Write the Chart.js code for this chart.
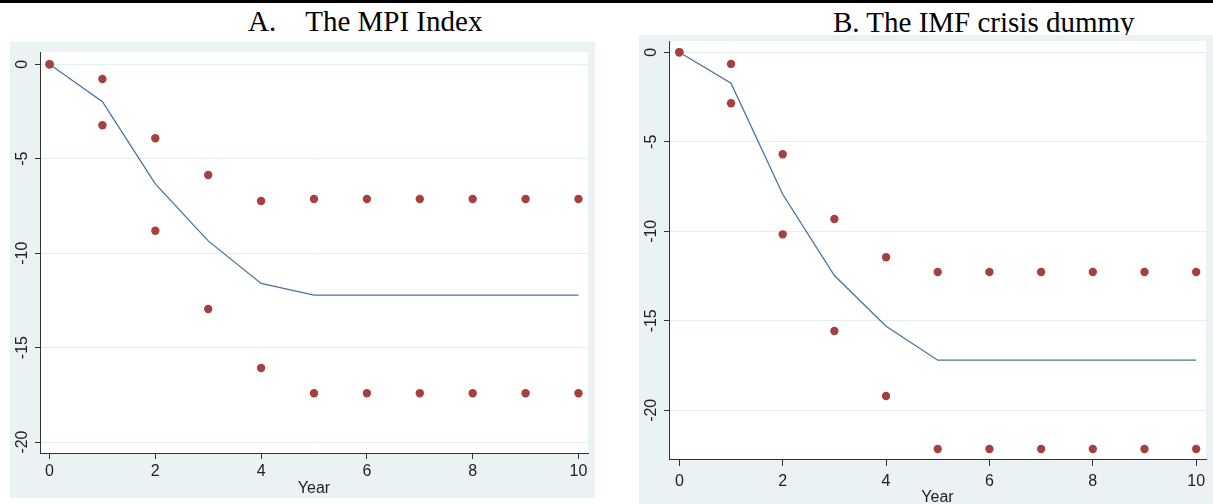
<!DOCTYPE html>
<html>
<head>
<meta charset="utf-8">
<script src="https://cdn.jsdelivr.net/npm/chart.js@4.4.1/dist/chart.umd.min.js"></script>
<style>
  body { margin: 0; width: 1213px; height: 504px; background: #fff; position: relative; overflow: hidden; }
  .rule { position: absolute; left: 0; top: 0; width: 1213px; height: 3px; background: #000; }
  .title { position: absolute; font-family: 'Liberation Serif', 'Times New Roman', serif; font-size: 29px; line-height: 29px; color: #000; white-space: pre; }
  .panel { position: absolute; background: #EAF2F3; }
  canvas { display: block; }
</style>
</head>
<body>
<div class="rule"></div>
<div class="title" style="left:248px; top:7px;">A.<span style="margin-left:29px;">The MPI Index</span></div>
<div class="title" style="left:833px; top:8px;">B. The IMF crisis dummy</div>

<div class="panel" style="left:10px; top:42px; width:585px; height:456px;">
  <canvas id="mpiChart" width="585" height="456"></canvas>
</div>
<div class="panel" style="left:639px; top:35px; width:574px; height:469px;">
  <canvas id="imfChart" width="574" height="469"></canvas>
</div>

<script>
const years = [0, 1, 2, 3, 4, 5, 6, 7, 8, 9, 10];
const xTicks = [0, 2, 4, 6, 8, 10];
const yTicks = [0, -5, -10, -15, -20];

// panel A: MPI index
const mpiEstimate = [0, -1.98, -6.33, -9.35, -11.6, -12.22, -12.22, -12.22, -12.22, -12.22, -12.22];
const mpiUpper    = [0, -0.78, -3.92, -5.86, -7.24, -7.13, -7.13, -7.13, -7.13, -7.13, -7.13];
const mpiLower    = [0, -3.23, -8.81, -12.96, -16.08, -17.42, -17.42, -17.42, -17.42, -17.42, -17.42];

// panel B: IMF crisis dummy
const imfEstimate = [0, -1.73, -7.93, -12.47, -15.3, -17.2, -17.2, -17.2, -17.2, -17.2, -17.2];
const imfUpper    = [0, -0.65, -5.7, -9.31, -11.45, -12.27, -12.27, -12.27, -12.27, -12.27, -12.27];
const imfLower    = [0, -2.85, -10.17, -15.57, -19.2, -22.16, -22.16, -22.16, -22.16, -22.16, -22.16];

const TICK_FONT = "'Liberation Sans Narrow', 'Liberation Sans', Arial, sans-serif";
const TICK_SIZE = 16;
const TEXT_COLOR = '#222';
const AXIS_COLOR = '#333';
const GRID_COLOR = '#E3EEEF';
const LINE_COLOR = '#4A739B';
const DOT_COLOR = '#A6403F';

const toPoints = (vals) => years.map((x, i) => ({ x, y: vals[i] }));

const plotBackground = {
    id: 'plotBackground',
    beforeDraw(chart) {
        const { ctx, chartArea: a } = chart;
        ctx.save();
        ctx.fillStyle = '#fff';
        ctx.fillRect(a.left, a.top, a.right - a.left, a.bottom - a.top);
        ctx.restore();
    }
};

// Stata style y labels, turned to read upwards
const rotatedYLabels = {
    id: 'rotatedYLabels',
    afterDraw(chart) {
        const { ctx, chartArea } = chart;
        const y = chart.scales.y;
        ctx.save();
        ctx.font = `${TICK_SIZE}px ${TICK_FONT}`;
        ctx.fillStyle = TEXT_COLOR;
        ctx.textAlign = 'center';
        ctx.textBaseline = 'middle';
        y.ticks.forEach(t => {
            ctx.save();
            ctx.translate(chartArea.left - 17, y.getPixelForValue(t.value));
            ctx.rotate(-Math.PI / 2);
            ctx.fillText(String(t.value), 0, 0);
            ctx.restore();
        });
        ctx.restore();
    }
};

function makePanel(id, est, upper, lower, opts) {
    const ctx = document.getElementById(id).getContext('2d');
    return new Chart(ctx, {
        type: 'scatter',
        data: {
            datasets: [
                { data: toPoints(upper), showLine: false, pointRadius: 4.2, pointBackgroundColor: DOT_COLOR, pointBorderWidth: 0, order: 1 },
                { data: toPoints(lower), showLine: false, pointRadius: 4.2, pointBackgroundColor: DOT_COLOR, pointBorderWidth: 0, order: 1 },
                { data: toPoints(est), showLine: true, borderColor: LINE_COLOR, borderWidth: 1.3, pointRadius: 0, tension: 0, order: 2 }
            ]
        },
        options: {
            responsive: false,
            animation: false,
            layout: { padding: { top: opts.top, right: 7, bottom: 0, left: 0 } },
            scales: {
                x: {
                    type: 'linear',
                    min: opts.xMin,
                    max: opts.xMax,
                    afterBuildTicks: s => { s.ticks = xTicks.map(value => ({ value })); },
                    afterFit: s => { s.height = 45; },
                    grid: { drawOnChartArea: false, drawTicks: true, tickLength: opts.tickLen, tickColor: AXIS_COLOR },
                    border: { display: true, color: AXIS_COLOR, width: 1 },
                    ticks: { color: TEXT_COLOR, padding: opts.tickPad, maxRotation: 0, font: { family: TICK_FONT, size: TICK_SIZE } },
                    title: { display: true, text: 'Year', color: TEXT_COLOR, padding: { top: 0, bottom: opts.titlePad }, font: { family: TICK_FONT, size: TICK_SIZE } }
                },
                y: {
                    type: 'linear',
                    min: opts.yMin,
                    max: opts.yMax,
                    afterBuildTicks: s => { s.ticks = yTicks.map(value => ({ value })); },
                    afterFit: s => { s.width = 30; },
                    grid: { color: GRID_COLOR, lineWidth: 1, drawTicks: true, tickLength: 5, tickColor: AXIS_COLOR },
                    border: { display: true, color: AXIS_COLOR, width: 1 },
                    ticks: { display: false }
                }
            },
            plugins: { legend: { display: false }, tooltip: { enabled: false } }
        },
        plugins: [plotBackground, rotatedYLabels]
    });
}

makePanel('mpiChart', mpiEstimate, mpiUpper, mpiLower,
    { xMin: -0.18, xMax: 10.18, yMin: -20.58, yMax: 0.65, top: 10, tickLen: 6, tickPad: 3, titlePad: 0 });
makePanel('imfChart', imfEstimate, imfUpper, imfLower,
    { xMin: -0.2, xMax: 10.19, yMin: -22.72, yMax: 0.63, top: 6, tickLen: 7, tickPad: 6, titlePad: -3 });
</script>
</body>
</html>
